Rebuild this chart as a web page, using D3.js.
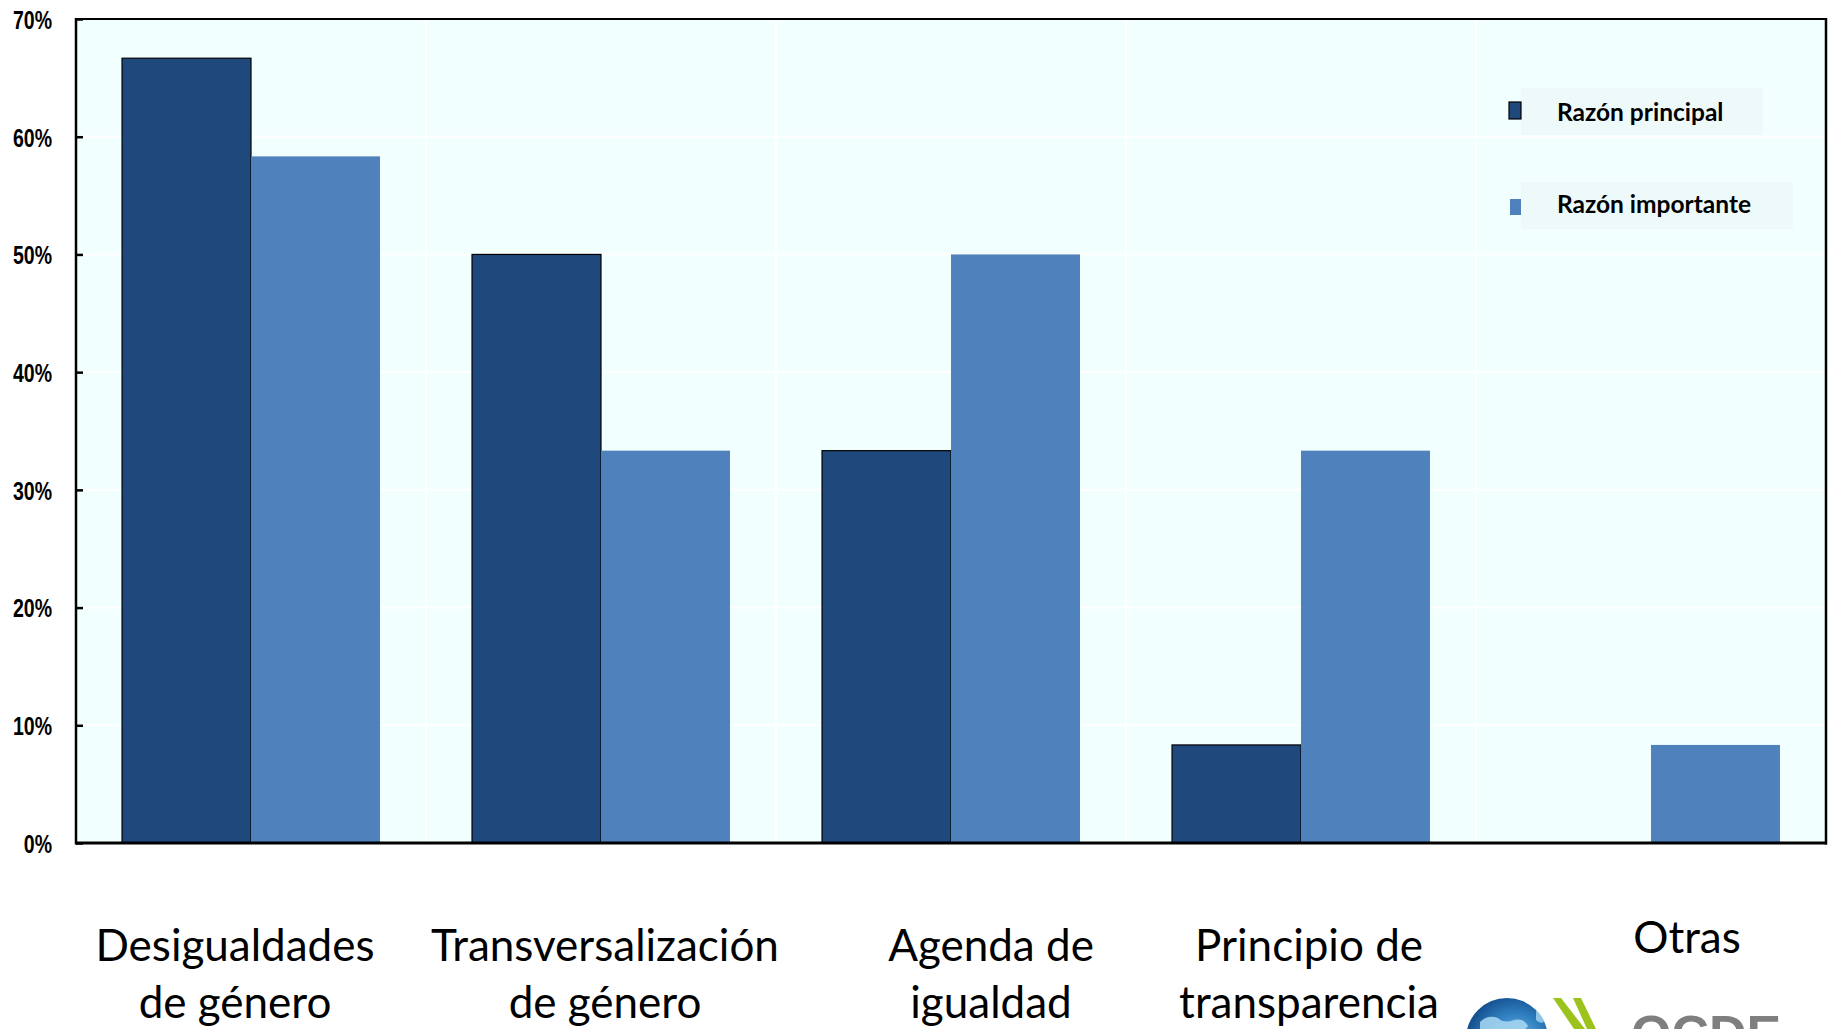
<!DOCTYPE html>
<html><head><meta charset="utf-8">
<script src="https://cdn.jsdelivr.net/npm/d3@7"></script>
<style>body{margin:0;background:#fff;} svg{display:block}</style>
</head><body><svg id="chart" width="1834" height="1029"></svg>
<script>
// ---- data ----
const categories = ["Desigualdades de género", "Transversalización de género", "Agenda de igualdad", "Principio de transparencia", "Otras"];
const categoryLabelLines = [["Desigualdades", "de género"], ["Transversalización", "de género"], ["Agenda de", "igualdad"], ["Principio de", "transparencia"], ["Otras"]];
const seriesNames = ["Razón principal", "Razón importante"];
const razonPrincipal = [66.67, 50, 33.33, 8.33, 0];
const razonImportante = [58.33, 33.33, 50, 33.33, 8.33];
const yTickValues = [0, 10, 20, 30, 40, 50, 60, 70];

// ---- style / layout ----
const W = 1834, H = 1029;
const plot = {left: 76, right: 1826, top: 19, bottom: 843};
const colors = ["#1F497D", "#4F81BD"];
const labelOffsets = [-16, 4, 40, 8, 36];   // horizontal nudges of category labels
const labelBaselines = [961, 961, 961, 961, 953];

const svg = d3.select("#chart");
const series = [razonPrincipal, razonImportante];

const x = d3.scaleBand().domain(categories).range([plot.left, plot.right])
  .paddingInner(0.263).paddingOuter(0.1315);
const x1 = d3.scaleBand().domain(seriesNames).range([0, x.bandwidth()]).padding(0);
const y = d3.scaleLinear().domain([0, 70]).range([plot.bottom, plot.top]);

// background
svg.append("rect").attr("x", plot.left).attr("y", plot.top)
  .attr("width", plot.right - plot.left).attr("height", plot.bottom - plot.top)
  .attr("fill", "#F2FFFF");

// gridlines
svg.append("g").selectAll("line").data(yTickValues.slice(1, -1)).join("line")
  .attr("x1", plot.left).attr("x2", plot.right)
  .attr("y1", d => y(d)).attr("y2", d => y(d))
  .attr("stroke", "#ffffff").attr("stroke-width", 2);
svg.append("g").selectAll("line").data(categories.slice(1)).join("line")
  .attr("x1", d => x(d) - x.step() * x.paddingInner() / 2)
  .attr("x2", d => x(d) - x.step() * x.paddingInner() / 2)
  .attr("y1", plot.top).attr("y2", plot.bottom)
  .attr("stroke", "#ffffff").attr("stroke-width", 2);

// legend
const legendItems = [
  {name: seriesNames[0], color: colors[0], stroke: "#000", sq: [1509, 102, 12, 17], box: [1521, 88, 242, 47], tx: 1557, ty: 121},
  {name: seriesNames[1], color: colors[1], stroke: "none", sq: [1510, 199, 11, 16], box: [1521, 182, 272, 47], tx: 1557, ty: 213}
];
const lg = svg.append("g");
legendItems.forEach(it => {
  lg.append("rect").attr("x", it.box[0]).attr("y", it.box[1]).attr("width", it.box[2]).attr("height", it.box[3]).attr("fill", "#EEFAFA");
  lg.append("rect").attr("x", it.sq[0]).attr("y", it.sq[1]).attr("width", it.sq[2]).attr("height", it.sq[3])
    .attr("fill", it.color).attr("stroke", it.stroke).attr("stroke-width", 1.2);
  lg.append("text").attr("x", it.tx).attr("y", it.ty).text(it.name)
    .attr("font-family", "Lato, 'Open Sans', sans-serif").attr("font-weight", "bold")
    .attr("font-size", 24.5).attr("fill", "#000");
});

// bars
const groups = svg.append("g").selectAll("g").data(categories).join("g")
  .attr("transform", d => `translate(${x(d)},0)`);
groups.selectAll("rect").data((d, i) => seriesNames.map((s, j) => ({s, v: series[j][i], j})))
  .join("rect")
  .filter(d => d.v > 0)
  .attr("x", d => x1(d.s)).attr("width", x1.bandwidth())
  .attr("y", d => y(d.v)).attr("height", d => y(0) - y(d.v))
  .attr("fill", d => colors[d.j])
  .attr("stroke", d => d.j === 0 ? "#000" : "none")
  .attr("stroke-width", 1.2);

// y axis
const yAxis = d3.axisLeft(y).tickValues(yTickValues).tickSize(-7).tickPadding(0).tickFormat(d => d + "%");
const ya = svg.append("g").attr("transform", `translate(${plot.left},0)`).call(yAxis);
ya.select(".domain").remove();
ya.selectAll(".tick line").attr("stroke", "#000").attr("stroke-width", 2.5);
ya.selectAll(".tick text").attr("font-family", "'Liberation Sans', Arial, sans-serif")
  .attr("font-weight", "bold").attr("font-size", 26).attr("fill", "#000")
  .attr("x", 0).attr("dy", "0.36em")
  .attr("transform", "translate(-24,0) scale(0.75,1)");

// frame
svg.append("line").attr("x1", plot.left).attr("x2", plot.right).attr("y1", plot.top).attr("y2", plot.top).attr("stroke", "#000").attr("stroke-width", 2);
svg.append("line").attr("x1", plot.left).attr("x2", plot.left).attr("y1", plot.top - 1).attr("y2", plot.bottom + 1.5).attr("stroke", "#000").attr("stroke-width", 2.5);
svg.append("line").attr("x1", plot.right).attr("x2", plot.right).attr("y1", plot.top - 1).attr("y2", plot.bottom + 1.5).attr("stroke", "#000").attr("stroke-width", 2.5);
svg.append("line").attr("x1", plot.left).attr("x2", plot.right + 1).attr("y1", plot.bottom).attr("y2", plot.bottom).attr("stroke", "#000").attr("stroke-width", 3);

// category labels
const cl = svg.append("g").selectAll("text").data(categories).join("text")
  .attr("text-anchor", "middle")
  .attr("font-family", "Lato, 'Open Sans', sans-serif").attr("font-size", 44).attr("fill", "#000")
  .attr("transform", (d, i) => `translate(${x(d) + x.bandwidth() / 2 + labelOffsets[i]},${labelBaselines[i]})`);
cl.selectAll("tspan").data((d, i) => categoryLabelLines[i]).join("tspan")
  .attr("x", 0).attr("y", (d, k) => k * 57).text(d => d);

// OECD logo (partially cut by page edge)
const defs = svg.append("defs");
const rg = defs.append("radialGradient").attr("id", "globe").attr("cx", "0.6").attr("cy", "0.55").attr("r", "0.6");
rg.append("stop").attr("offset", "0").attr("stop-color", "#7fc0ea");
rg.append("stop").attr("offset", "0.6").attr("stop-color", "#2f7fc0");
rg.append("stop").attr("offset", "1").attr("stop-color", "#15508f");
const logo = svg.append("g");
logo.append("circle").attr("cx", 1507).attr("cy", 1039).attr("r", 41).attr("fill", "url(#globe)");
logo.append("path").attr("d", "M1480,1022 q8,-8 18,-4 q6,6 16,2 q10,-2 14,6 q-4,6 -12,4 q-6,6 -14,2 q-8,2 -12,8 q-6,-4 -10,-4 z")
  .attr("fill", "#a9d8f2").attr("opacity", 0.85);
logo.append("path").attr("d", "M1536,1010 q6,4 8,12 q-4,2 -8,-2 z").attr("fill", "#a9d8f2").attr("opacity", 0.8);
logo.append("polygon").attr("points", "1553,998 1561,998 1585,1029 1574,1029").attr("fill", "#9BC31C");
logo.append("polygon").attr("points", "1573,998 1581,998 1596,1029 1587,1029").attr("fill", "#9BC31C");
logo.append("text").attr("x", 1631).attr("y", 1052).text("OCDE")
  .attr("font-family", "'Liberation Sans', Arial, sans-serif").attr("font-weight", "bold")
  .attr("font-size", 52).attr("fill", "#7f7f7f");
</script>
</body></html>
